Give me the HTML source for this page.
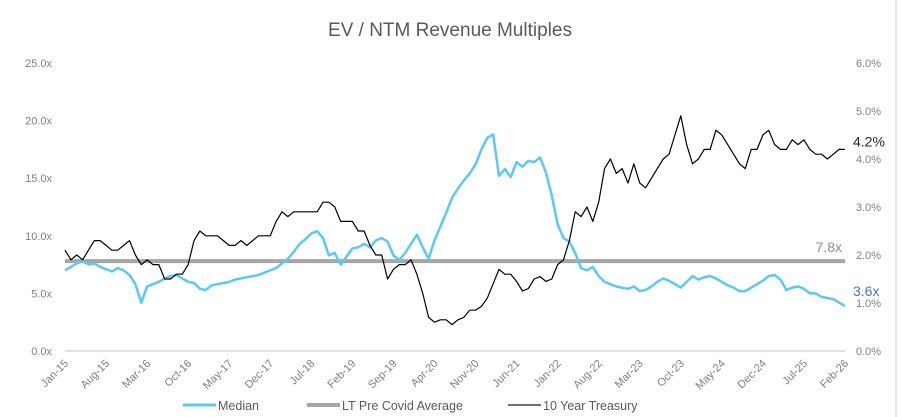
<!DOCTYPE html>
<html><head><meta charset="utf-8"><style>
body{margin:0;background:#fff;}
svg{display:block;font-family:"Liberation Sans",sans-serif;}
</style></head><body>
<svg id="chart" width="901" height="417" viewBox="0 0 901 417">
<line x1="896" y1="0" x2="896" y2="417" stroke="#d0d0d0" stroke-width="1"/>
<text x="450" y="36" text-anchor="middle" font-size="19" fill="#595959">EV / NTM Revenue Multiples</text>
<g id="axes"></g>
<g id="series"></g>
<g id="legend"></g>
</svg>
<script>
const xLabels=["Jan-15","Aug-15","Mar-16","Oct-16","May-17","Dec-17","Jul-18","Feb-19","Sep-19","Apr-20","Nov-20","Jun-21","Jan-22","Aug-22","Mar-23","Oct-23","May-24","Dec-24","Jul-25","Feb-26"];
const leftTicks=[0,5,10,15,20,25];
const rightTicks=[0,1,2,3,4,5,6];
const ltAverage=7.8;
const treasury=[
2.1,1.9,2.0,1.9,2.1,2.3,2.3,2.2,2.1,2.1,2.2,2.3,
2.0,1.8,1.9,1.8,1.8,1.5,1.5,1.6,1.6,1.8,2.3,2.5,
2.4,2.4,2.4,2.3,2.2,2.2,2.3,2.2,2.3,2.4,2.4,2.4,
2.7,2.9,2.8,2.9,2.9,2.9,2.9,2.9,3.1,3.1,3.0,2.7,
2.7,2.7,2.5,2.5,2.2,2.0,2.0,1.5,1.7,1.8,1.8,1.9,
1.6,1.2,0.7,0.6,0.65,0.65,0.55,0.65,0.7,0.85,0.85,0.93,
1.1,1.4,1.7,1.6,1.6,1.45,1.25,1.3,1.5,1.55,1.45,1.5,
1.8,1.9,2.3,2.9,2.8,3.0,2.7,3.1,3.8,4.0,3.7,3.8,
3.5,3.9,3.5,3.4,3.6,3.8,4.0,4.1,4.5,4.9,4.3,3.9,
4.0,4.2,4.2,4.6,4.5,4.3,4.1,3.9,3.8,4.2,4.2,4.5,
4.6,4.3,4.2,4.2,4.4,4.3,4.4,4.2,4.1,4.1,4.0,4.1,
4.2,4.2];
const median=[
7.0,7.3,7.6,7.8,7.5,7.6,7.3,7.1,6.9,7.2,7.0,6.6,
5.8,4.2,5.6,5.8,6.0,6.3,6.5,6.6,6.3,6.0,5.9,5.4,
5.3,5.7,5.8,5.9,6.0,6.2,6.3,6.4,6.5,6.6,6.8,7.0,
7.2,7.6,8.0,8.6,9.3,9.7,10.2,10.4,9.8,8.3,8.5,7.5,
8.2,8.9,9.0,9.3,9.0,9.6,9.8,9.5,8.3,7.9,8.5,9.3,
10.1,9.0,8.0,9.6,10.8,12.0,13.3,14.1,14.8,15.4,16.2,17.5,
18.5,18.8,15.2,15.8,15.1,16.4,16.0,16.5,16.4,16.8,15.5,13.5,
11.0,9.8,9.5,8.5,7.2,7.0,7.3,6.5,6.0,5.8,5.6,5.5,
5.4,5.6,5.2,5.3,5.6,6.0,6.3,6.1,5.8,5.5,6.0,6.5,
6.2,6.4,6.5,6.3,6.0,5.7,5.5,5.2,5.2,5.5,5.8,6.1,
6.5,6.6,6.2,5.3,5.5,5.6,5.4,5.0,5.0,4.7,4.6,4.5,
4.2,3.9];
const lastMedianLabel="3.6x", lastTreasuryLabel="4.2%";

const NS="http://www.w3.org/2000/svg";
const X0=65,X1=845,Y0=351,Y1=63;
const n=median.length;
const x=i=>X0+(X1-X0)*i/(n-1);
const yL=v=>Y0-(Y0-Y1)*v/25;
const yR=v=>Y0-(Y0-Y1)*v/6;
function mk(tag,parent,attrs){const e=document.createElementNS(NS,tag);for(const k in attrs)e.setAttribute(k,attrs[k]);parent.appendChild(e);return e;}
const axes=document.getElementById('axes'),ser=document.getElementById('series'),leg=document.getElementById('legend');

let base=mk('line',axes,{x1:X0,x2:X1,y1:Y0,y2:Y0,stroke:'#d9d9d9','stroke-width':1.5});


leftTicks.forEach(v=>{const t=mk('text',axes,{x:52,y:yL(v)+4,'text-anchor':'end','font-size':11,fill:'#7f7f7f'});t.textContent=v.toFixed(1)+'x';

});
rightTicks.forEach(v=>{const t=mk('text',axes,{x:856,y:yR(v)+4,'font-size':11,fill:'#7f7f7f'});t.textContent=v.toFixed(1)+'%';

});
xLabels.forEach((l,i)=>{const px=x(i*7);const t=mk('text',axes,{x:px+4,y:364,'text-anchor':'end','font-size':11,fill:'#7f7f7f',transform:`rotate(-45 ${px+4} 364)`});t.textContent=l;

});

let lt=mk('line',ser,{x1:X0,x2:X1,y1:yL(ltAverage),y2:yL(ltAverage),stroke:'#a6a6a6','stroke-width':4});


let ltl=mk('text',ser,{x:842,y:yL(ltAverage)-9,'text-anchor':'end','font-size':14,fill:'#8c8c8c'});ltl.textContent=ltAverage.toFixed(1)+'x';



let pm=mk('polyline',ser,{points:median.map((v,i)=>x(i)+','+yL(v)).join(' '),fill:'none',stroke:'#5bc8f5','stroke-width':2.5,'stroke-linejoin':'round'});


let pt=mk('polyline',ser,{points:treasury.map((v,i)=>x(i)+','+yR(v)).join(' '),fill:'none',stroke:'#000','stroke-width':1.2,'stroke-linejoin':'round'});


let ml=mk('text',ser,{x:853,y:yL(median[n-1])-10,'font-size':14,fill:'#4472c4'});ml.textContent=lastMedianLabel;


let tl=mk('text',ser,{x:853,y:yR(treasury[n-1])-3,'font-size':14,fill:'#262626'});tl.textContent=lastTreasuryLabel;



const legItems=[["Median",183,'#5bc8f5',3],["LT Pre Covid Average",307,'#a6a6a6',4],["10 Year Treasury",508,'#404040',1.5]];
legItems.forEach(([lab,lx,c,w])=>{
 const l=mk('line',leg,{x1:lx,x2:lx+33,y1:405,y2:405,stroke:c,'stroke-width':w});
 
 
 const t=mk('text',leg,{x:lx+35,y:410,'font-size':12.5,fill:'#595959'});t.textContent=lab;
 
 
});
</script>
</body></html>
